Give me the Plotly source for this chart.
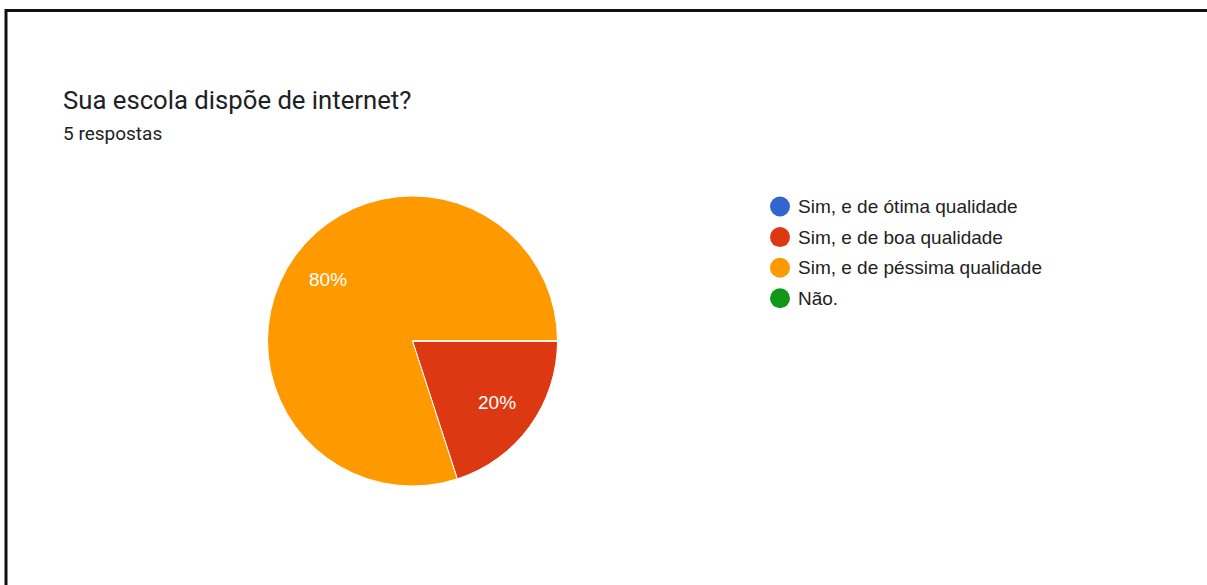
import math
import plotly.graph_objects as go

# Survey data
categories = ["Sim, e de ótima qualidade", "Sim, e de boa qualidade",
              "Sim, e de péssima qualidade", "Não."]
responses = [0, 1, 4, 0]
colors = ["#3366CC", "#DC3912", "#FF9900", "#109618"]
title_text = "Sua escola dispõe de internet?"
subtitle_text = f"{sum(responses)} respostas"

W, H = 1207, 585

def px_x(x):
    return x / W

def px_y(y):
    return 1 - y / H

# pie placement (pixels)
cx, cy, r = 412.5, 341, 145

fig = go.Figure()
fig.add_trace(go.Pie(
    labels=categories,
    values=responses,
    marker=dict(colors=colors, line=dict(color="white", width=1)),
    sort=False,
    direction="clockwise",
    rotation=90,
    textinfo="none",
    showlegend=False,
    hoverinfo="label+value+percent",
    domain=dict(x=[px_x(cx - r), px_x(cx + r)], y=[px_y(cy + r), px_y(cy - r)]),
))

annotations = [
    dict(text=title_text, x=px_x(61), y=px_y(99.5), xref="paper", yref="paper",
         xanchor="left", yanchor="middle", showarrow=False,
         font=dict(family="Roboto", size=25.7, color="#202124")),
    dict(text=subtitle_text, x=px_x(61), y=px_y(134), xref="paper", yref="paper",
         xanchor="left", yanchor="middle", showarrow=False,
         font=dict(family="Roboto", size=19, color="#202124")),
]

# percentage labels placed at the middle angle of each slice
total = sum(responses)
start = 0.0  # degrees clockwise from 3 o'clock
for v in responses:
    if v == 0:
        continue
    frac = v / total
    mid = math.radians(start + frac * 360 / 2)
    lx = cx + 0.72 * r * math.cos(mid)
    ly = cy + 0.72 * r * math.sin(mid)
    annotations.append(dict(text=f"{frac:.0%}", x=px_x(lx), y=px_y(ly),
                            xref="paper", yref="paper", xanchor="center", yanchor="middle",
                            showarrow=False,
                            font=dict(family="Arial, Liberation Sans", size=19, color="white")))
    start += frac * 360

shapes = [
    # frame lines
    dict(type="line", xref="paper", yref="paper", x0=px_x(5), x1=1, y0=px_y(10.5), y1=px_y(10.5),
         line=dict(color="#111111", width=3)),
    dict(type="line", xref="paper", yref="paper", x0=px_x(6), x1=px_x(6), y0=px_y(9), y1=0,
         line=dict(color="#111111", width=3)),
]

# legend: circle markers with labels
leg_x, leg_y0, leg_dy, dot_r = 780, 206.5, 30.6, 10
for i, (name, col) in enumerate(zip(categories, colors)):
    yc = leg_y0 + i * leg_dy
    shapes.append(dict(type="circle", xref="paper", yref="paper",
                       x0=px_x(leg_x - dot_r), x1=px_x(leg_x + dot_r),
                       y0=px_y(yc + dot_r), y1=px_y(yc - dot_r),
                       fillcolor=col, line=dict(width=0)))
    annotations.append(dict(text=name, x=px_x(796), y=px_y(yc), xref="paper", yref="paper",
                            xanchor="left", yanchor="middle", showarrow=False,
                            font=dict(family="Arial, Liberation Sans", size=19, color="#222222")))

fig.update_layout(
    width=W, height=H,
    margin=dict(l=0, r=0, t=0, b=0),
    paper_bgcolor="white",
    plot_bgcolor="white",
    annotations=annotations,
    shapes=shapes,
)

fig.write_html("out.html")
